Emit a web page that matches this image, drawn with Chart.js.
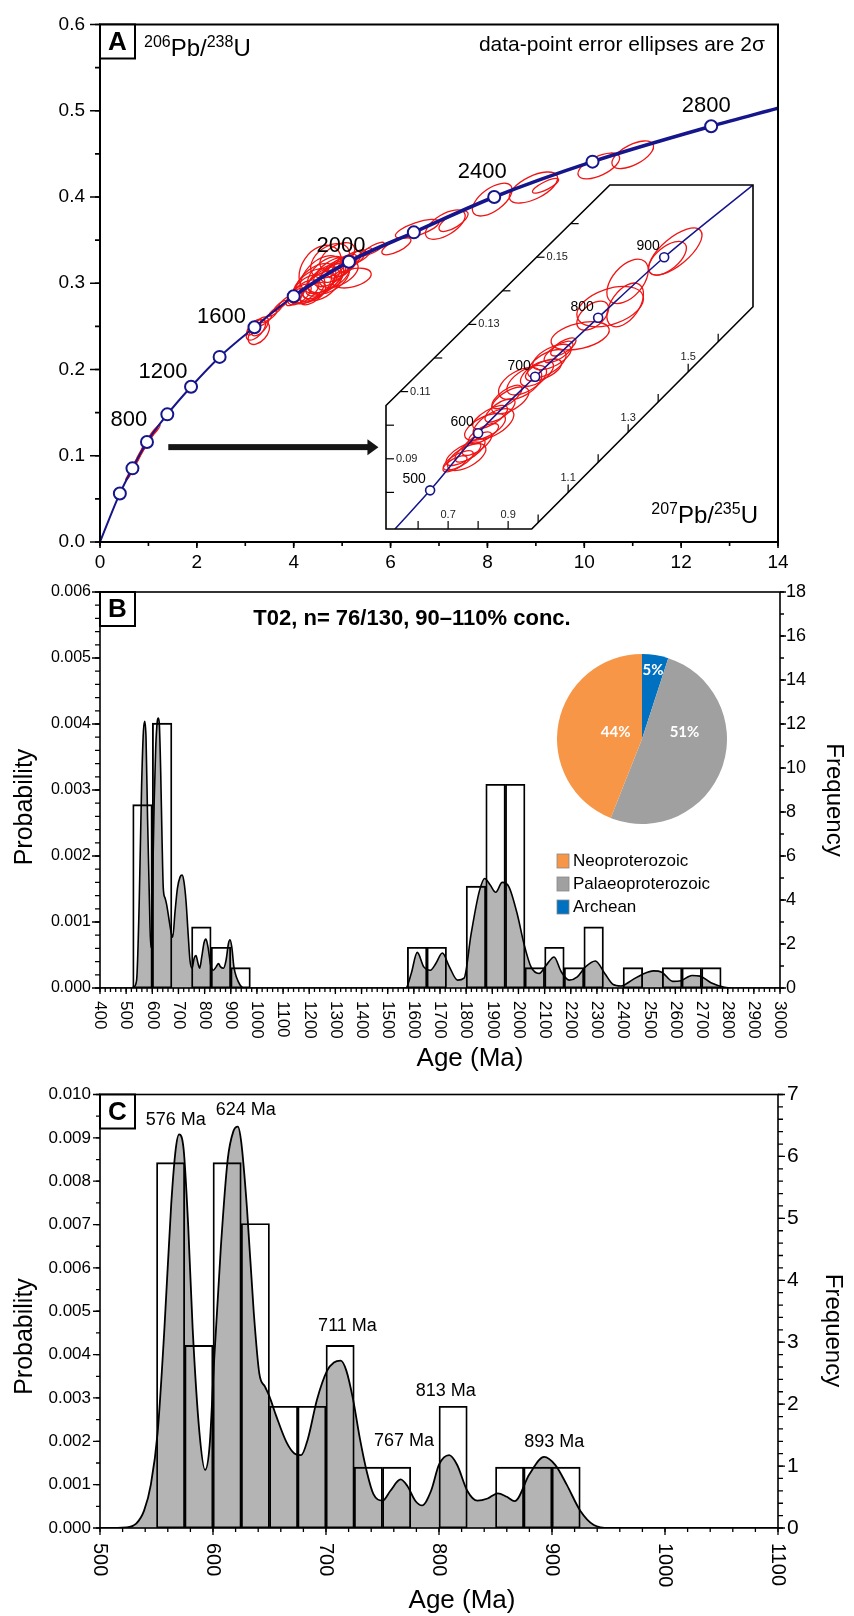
<!DOCTYPE html>
<html>
<head>
<meta charset="utf-8">
<title>U-Pb concordia and detrital zircon ages</title>
<script src="https://cdn.jsdelivr.net/npm/chart.js@4.4.1/dist/chart.umd.min.js"></script>
<style>
  body { margin: 0; background: #fff; }
  #fig { position: relative; width: 854px; height: 1616px; }
  #fig canvas { position: absolute; }
</style>
</head>
<body>
<div id="fig">
  <canvas id="gA" width="854" height="580" style="left:0;top:0"></canvas>
  <canvas id="gIn" width="371" height="348" style="left:384px;top:183px"></canvas>
  <canvas id="gB" width="854" height="500" style="left:0;top:575px"></canvas>
  <canvas id="gPie" width="170" height="170" style="left:557px;top:654px"></canvas>
  <canvas id="gC" width="854" height="541" style="left:0;top:1075px"></canvas>
</div>
<script>
// ---------- panel A : concordia (207Pb/235U vs 206Pb/238U) ----------
const concX = [0, 0.41, 0.67, 0.97, 1.39, 1.88, 2.47, 3.19, 4.00, 5.14, 6.48, 8.14, 10.17, 12.62, 14.0];
const concY = [0, 0.0563, 0.0854, 0.116, 0.148, 0.180, 0.2146, 0.249, 0.285, 0.325, 0.359, 0.400, 0.441, 0.482, 0.503];
const concLabelIdx = [3, 5, 7, 9, 11, 13];
const concLabels = ['800', '1200', '1600', '2000', '2400', '2800'];

// error ellipses: [x, y, 2s x, 2s y, rho]
const mainYoungEll = [
  [0.58, 0.0755, 0.05, 0.004, 0.9], [0.63, 0.0810, 0.05, 0.004, 0.9], [0.66, 0.0845, 0.06, 0.005, 0.9],
  [0.70, 0.0885, 0.05, 0.004, 0.9], [0.74, 0.0925, 0.06, 0.005, 0.9], [0.78, 0.0965, 0.05, 0.004, 0.9],
  [0.82, 0.1010, 0.06, 0.005, 0.9], [0.87, 0.1060, 0.06, 0.005, 0.9], [0.92, 0.1110, 0.07, 0.006, 0.9],
  [0.98, 0.1165, 0.07, 0.006, 0.9], [1.04, 0.1215, 0.07, 0.006, 0.9], [1.10, 0.1265, 0.08, 0.006, 0.9],
  [1.17, 0.1310, 0.07, 0.005, 0.9]
];
const mainOldEll = [
  [3.22, 0.246, 0.20, 0.012, 0.6], [3.28, 0.242, 0.22, 0.013, 0.5], [3.18, 0.249, 0.15, 0.009, 0.7],
  [3.30, 0.250, 0.18, 0.011, 0.6], [3.42, 0.257, 0.12, 0.006, 0.85], [3.52, 0.262, 0.13, 0.006, 0.85],
  [3.62, 0.268, 0.13, 0.006, 0.85], [3.72, 0.274, 0.12, 0.006, 0.85], [3.80, 0.278, 0.11, 0.006, 0.85],
  [4.02, 0.284, 0.18, 0.010, 0.7], [4.12, 0.287, 0.24, 0.012, 0.6], [4.22, 0.290, 0.30, 0.014, 0.6],
  [4.30, 0.293, 0.34, 0.017, 0.5], [4.38, 0.297, 0.40, 0.020, 0.5], [4.45, 0.301, 0.42, 0.022, 0.5],
  [4.52, 0.298, 0.33, 0.016, 0.6], [4.58, 0.306, 0.45, 0.026, 0.4], [4.62, 0.302, 0.37, 0.017, 0.6],
  [4.68, 0.310, 0.40, 0.021, 0.5], [4.72, 0.305, 0.43, 0.018, 0.5], [4.78, 0.313, 0.37, 0.017, 0.6],
  [4.82, 0.308, 0.34, 0.016, 0.6], [4.88, 0.315, 0.32, 0.014, 0.6], [4.93, 0.311, 0.40, 0.016, 0.5],
  [4.98, 0.319, 0.29, 0.013, 0.6], [4.55, 0.316, 0.44, 0.028, 0.3], [4.75, 0.326, 0.40, 0.020, 0.4],
  [4.90, 0.331, 0.36, 0.016, 0.5], [5.20, 0.306, 0.40, 0.0115, 0.4], [5.05, 0.321, 0.26, 0.013, 0.6],
  [5.15, 0.325, 0.24, 0.012, 0.7], [5.28, 0.329, 0.20, 0.010, 0.7], [4.40, 0.288, 0.26, 0.013, 0.6],
  [5.45, 0.333, 0.16, 0.008, 0.8], [5.65, 0.340, 0.22, 0.0075, 0.8], [6.12, 0.343, 0.30, 0.0100, 0.7],
  [6.55, 0.363, 0.45, 0.011, 0.7], [7.13, 0.368, 0.41, 0.017, 0.6], [7.30, 0.372, 0.30, 0.012, 0.7],
  [8.10, 0.397, 0.41, 0.019, 0.6], [8.95, 0.411, 0.50, 0.018, 0.6], [9.20, 0.413, 0.27, 0.0085, 0.8],
  [10.30, 0.436, 0.43, 0.015, 0.6], [11.00, 0.449, 0.43, 0.016, 0.6]
];

// inset (500-900 Ma)
const insetX = [0.523, 0.64, 0.80, 0.99, 1.20, 1.42, 1.72];
const insetY = [0.0691, 0.0806, 0.0976, 0.1144, 0.132, 0.150, 0.1718];
const insetLabels = ['500', '600', '700', '800', '900'];
const insetEll = [
  [0.734, 0.0895, 0.050, 0.0029, 0.7], [0.751, 0.0915, 0.058, 0.0035, 0.7], [0.773, 0.0925, 0.050, 0.0035, 0.7],
  [0.723, 0.0885, 0.040, 0.0024, 0.7], [0.796, 0.0945, 0.050, 0.0035, 0.7], [0.762, 0.0905, 0.064, 0.0040, 0.6],
  [0.823, 0.0995, 0.068, 0.0040, 0.6], [0.851, 0.1004, 0.068, 0.0045, 0.6], [0.840, 0.1024, 0.058, 0.0035, 0.7],
  [0.873, 0.1044, 0.050, 0.0035, 0.7], [0.818, 0.0975, 0.050, 0.0030, 0.7], [0.907, 0.1074, 0.062, 0.0040, 0.6],
  [0.896, 0.1084, 0.050, 0.0035, 0.7], [0.940, 0.1124, 0.072, 0.0048, 0.5], [0.962, 0.1134, 0.066, 0.0044, 0.6],
  [0.996, 0.1154, 0.055, 0.0038, 0.6], [1.029, 0.1183, 0.064, 0.0042, 0.6], [1.046, 0.1203, 0.064, 0.0038, 0.6],
  [1.068, 0.1218, 0.048, 0.0032, 0.7], [1.018, 0.1164, 0.060, 0.0033, 0.6], [1.084, 0.1233, 0.042, 0.0027, 0.7],
  [1.140, 0.1266, 0.097, 0.0042, 0.4], [1.182, 0.1326, 0.053, 0.0043, 0.5], [1.290, 0.1358, 0.061, 0.0065, 0.5],
  [1.298, 0.1428, 0.069, 0.0066, 0.5], [1.240, 0.1353, 0.111, 0.0060, 0.4], [1.431, 0.1497, 0.063, 0.0050, 0.6],
  [1.457, 0.1517, 0.089, 0.0070, 0.7]
];

// ---------- panel B : all concordant ages ----------
const pdpBAge = [400, 520, 530, 540, 550, 559, 566, 571, 576, 582, 589, 594, 598, 601, 607, 613, 619, 623, 627, 632,
  637, 642, 649, 655, 665, 673, 678, 687, 696, 706, 714, 721, 729, 737, 744, 752, 760, 767, 775, 781,
  789, 798, 805, 813, 823, 833, 844, 853, 861, 872, 882, 891, 897, 904, 912, 923, 935, 948, 1560, 1569,
  1590, 1613, 1638, 1663, 1684, 1709, 1736, 1767, 1792, 1819, 1850, 1871, 1892, 1913, 1938, 1964, 1996, 2021, 2048, 2079,
  2107, 2136, 2163, 2194, 2225, 2256, 2294, 2330, 2360, 2392, 2434, 2475, 2517, 2548, 2590, 2621, 2663, 2694, 2736, 2788,
  2819, 3000];
const pdpBProb = [0, 0, 0.00002, 0.00012, 0.00131, 0.00305, 0.00389, 0.00404, 0.00379, 0.00255, 0.00131, 0.00062, 0.00082, 0.00151, 0.0028, 0.00364, 0.00404, 0.00409, 0.00399, 0.00329,
  0.0023, 0.00151, 0.00136, 0.00126, 0.00101, 0.00082, 0.00077, 0.00116, 0.00151, 0.00168, 0.00171, 0.00161, 0.00131, 0.00082, 0.00042, 0.0003, 0.00045, 0.00049, 0.00037, 0.0003,
  0.00047, 0.00069, 0.00074, 0.00062, 0.00035, 0.00027, 0.00032, 0.00037, 0.00032, 0.0003, 0.00042, 0.00067, 0.00073, 0.00062, 0.00032, 0.00015, 0.00005, 0, 0, 0,
  0.00022, 0.00054, 0.00032, 0.00027, 0.00037, 0.00053, 0.00032, 0.00012, 0.00015, 0.00082, 0.00146, 0.00166, 0.00156, 0.00145, 0.0016, 0.00153, 0.00111, 0.00067, 0.00032, 0.00022,
  0.00035, 0.00047, 0.00025, 0.00012, 0.00017, 0.00032, 0.00041, 0.00022, 0.00006, 0.00003, 0.00012, 0.00021, 0.00026, 0.00024, 0.0001, 0.00011, 0.00019, 0.00018, 0.00008, 0.00001,
  0, 0];
// histogram, 75 Ma bins (bin centres)
const histBCentre = [562.5, 637.5, 712.5, 787.5, 862.5, 937.5, 1612.5, 1687.5, 1762.5, 1837.5, 1912.5, 1987.5, 2062.5,
  2137.5, 2212.5, 2287.5, 2362.5, 2437.5, 2512.5, 2587.5, 2662.5, 2737.5];
const histBCount = [9, 13, 0, 3, 2, 1, 2, 2, 0, 5, 10, 10, 1, 2, 1, 3, 0, 1, 0, 1, 1, 1];

const ageGroups = ['Neoproterozoic', 'Palaeoproterozoic', 'Archean'];
const groupShare = [44, 51, 5];
const groupColor = ['#F79646', '#A0A0A0', '#0070C0'];

// ---------- panel C : Neoproterozoic ages ----------
const pdpCAge = [500, 523, 532, 539, 545, 551, 557, 563, 567, 570, 574, 578, 582, 588, 593, 597, 601, 607, 613, 618,
  622, 625, 630, 636, 641, 646, 650, 656, 665, 672, 678, 684, 692, 701, 707, 713, 718, 724, 730, 736,
  742, 750, 757, 766, 772, 779, 785, 793, 800, 809, 816, 825, 834, 843, 852, 860, 867, 880, 893, 903,
  913, 925, 937, 951, 1100];
const pdpCProb = [0, 0.000015, 0.0001, 0.0004, 0.001, 0.0022, 0.0046, 0.00746, 0.00874, 0.00908, 0.00874, 0.007, 0.0046, 0.0022, 0.00134, 0.0019, 0.00386, 0.0065, 0.0085, 0.00915,
  0.00926, 0.0089, 0.0074, 0.005, 0.00356, 0.00326, 0.00303, 0.00258, 0.00198, 0.00172, 0.00168, 0.00206, 0.00296, 0.00363, 0.00382, 0.00386, 0.00363, 0.00296, 0.00206, 0.00131,
  0.00078, 0.00063, 0.00086, 0.00112, 0.00097, 0.00063, 0.00052, 0.00086, 0.00146, 0.00168, 0.00146, 0.00086, 0.00063, 0.00068, 0.0008, 0.00072, 0.00062, 0.00124, 0.00164, 0.00145,
  0.001, 0.0004, 0.00007, 0, 0];
const histCCentre = [562.5, 587.5, 612.5, 637.5, 662.5, 687.5, 712.5, 737.5, 762.5, 787.5, 812.5, 837.5, 862.5, 887.5, 912.5];
const histCCount = [6, 3, 6, 5, 2, 2, 3, 1, 1, 0, 2, 0, 1, 1, 1];
const peakLabels = ['576 Ma', '624 Ma', '711 Ma', '767 Ma', '813 Ma', '893 Ma'];

// ---------- helpers ----------
const FONT = "'Liberation Sans', Arial, Helvetica, sans-serif";
Chart.defaults.font.family = FONT;
Chart.defaults.color = '#000';
Chart.defaults.animation = false;
Chart.defaults.events = [];
Chart.defaults.plugins.legend.display = false;
Chart.defaults.plugins.tooltip.enabled = false;

const NAVY = '#15158c';
const RED = '#f01414';

function drawTicks(ctx, scale, step, len) {
  const n = Math.round((scale.max - scale.min) / step);
  ctx.beginPath();
  for (let i = 0; i <= n; i++) {
    const p = scale.getPixelForValue(scale.min + i * step);
    if (scale.position === 'bottom') { ctx.moveTo(p, scale.top); ctx.lineTo(p, scale.top + len); }
    else if (scale.position === 'left') { ctx.moveTo(scale.right, p); ctx.lineTo(scale.right - len, p); }
    else { ctx.moveTo(scale.left, p); ctx.lineTo(scale.left + len, p); }
  }
  ctx.stroke();
}

function frame(ctx, a, w) {
  ctx.save();
  ctx.strokeStyle = '#000';
  ctx.lineWidth = w;
  ctx.strokeRect(a.left, a.top, a.right - a.left, a.bottom - a.top);
  ctx.restore();
}

function letterBox(ctx, a, letter) {
  ctx.save();
  ctx.fillStyle = '#fff';
  ctx.fillRect(a.left, a.top, 35, 34);
  ctx.lineWidth = 2;
  ctx.strokeStyle = '#000';
  ctx.strokeRect(a.left, a.top, 35, 34);
  ctx.fillStyle = '#000';
  ctx.font = 'bold 26px ' + FONT;
  ctx.textAlign = 'center';
  ctx.textBaseline = 'middle';
  ctx.fillText(letter, a.left + 17.5, a.top + 18);
  ctx.restore();
}

function rotText(ctx, text, x, y, angle, font, align) {
  ctx.save();
  ctx.translate(x, y);
  ctx.rotate(angle);
  ctx.font = font;
  ctx.textAlign = align || 'center';
  ctx.textBaseline = 'middle';
  ctx.fillText(text, 0, 0);
  ctx.restore();
}

// parts beginning with ^ are superscripts
function richText(ctx, parts, x, y, big, small, align) {
  ctx.save();
  ctx.textAlign = 'left';
  ctx.textBaseline = 'alphabetic';
  const fb = big + 'px ' + FONT, fs = small + 'px ' + FONT;
  let w = 0;
  parts.forEach(p => { ctx.font = p[0] === '^' ? fs : fb; w += ctx.measureText(p.replace('^', '')).width; });
  let cx = align === 'right' ? x - w : x;
  parts.forEach(p => {
    const sup = p[0] === '^', t = p.replace('^', '');
    ctx.font = sup ? fs : fb;
    ctx.fillText(t, cx, sup ? y - big * 0.36 : y);
    cx += ctx.measureText(t).width;
  });
  ctx.restore();
}

function drawEllipse(ctx, xs, ys, e) {
  const cx = xs.getPixelForValue(e[0]), cy = ys.getPixelForValue(e[1]);
  const a = Math.abs(xs.getPixelForValue(e[0] + e[2]) - cx);
  const b = Math.abs(ys.getPixelForValue(e[1] + e[3]) - cy);
  const c = -e[4] * a * b;
  const m = (a * a + b * b) / 2, d = Math.sqrt(((a * a - b * b) / 2) ** 2 + c * c);
  const r1 = Math.sqrt(m + d), r2 = Math.sqrt(Math.max(m - d, 0.05));
  const th = 0.5 * Math.atan2(2 * c, a * a - b * b);
  ctx.beginPath();
  ctx.ellipse(cx, cy, r1, r2, th, 0, Math.PI * 2);
  ctx.stroke();
}

function rotatedXLabels(ctx, scale, step, gap, font) {
  const n = Math.round((scale.max - scale.min) / step);
  for (let i = 0; i <= n; i++) {
    const v = scale.min + i * step;
    rotText(ctx, String(Math.round(v)), scale.getPixelForValue(v), scale.top + gap, Math.PI / 2, font, 'left');
  }
}

// ---------- panel A chart ----------
const decoA = {
  id: 'decoA',
  beforeDatasetsDraw(chart) {
    const { ctx, chartArea: a, scales: { x, y } } = chart;
    ctx.save();
    ctx.beginPath();
    ctx.rect(a.left, a.top, a.right - a.left, a.bottom - a.top);
    ctx.clip();
    ctx.strokeStyle = RED;
    ctx.lineWidth = 1.3;
    mainYoungEll.concat(mainOldEll).forEach(e => drawEllipse(ctx, x, y, e));
    ctx.restore();
  },
  afterDraw(chart) {
    const { ctx, chartArea: a, scales: { x, y } } = chart;
    frame(ctx, a, 2);
    ctx.save();
    ctx.strokeStyle = '#000';
    ctx.lineWidth = 1.6;
    drawTicks(ctx, x, 2, 6); drawTicks(ctx, x, 1, 4);
    drawTicks(ctx, y, 0.1, 10); drawTicks(ctx, y, 0.05, 5);

    // arrow towards the inset
    const ax0 = x.getPixelForValue(1.41), ax1 = x.getPixelForValue(5.75), ay = y.getPixelForValue(0.110);
    ctx.fillStyle = '#151515';
    ctx.fillRect(ax0, ay - 3, ax1 - ax0 - 10, 6);
    ctx.beginPath();
    ctx.moveTo(ax1, ay); ctx.lineTo(ax1 - 11, ay - 8); ctx.lineTo(ax1 - 11, ay + 8); ctx.closePath();
    ctx.fill();

    // age labels on the concordia
    const offs = [[-18, -22], [-28, -15], [-33, -10], [-8, -16], [-12, -25], [-5, -20]];
    const pts = chart.getDatasetMeta(0).data;
    ctx.fillStyle = '#000';
    ctx.font = '22px ' + FONT;
    ctx.textAlign = 'center';
    ctx.textBaseline = 'middle';
    concLabelIdx.forEach((k, i) => ctx.fillText(concLabels[i], pts[k].x + offs[i][0], pts[k].y + offs[i][1]));

    ctx.font = '21px ' + FONT;
    ctx.textAlign = 'right';
    ctx.fillText('data-point error ellipses are 2\u03c3', a.right - 13, a.top + 21);
    ctx.restore();

    letterBox(ctx, a, 'A');
    richText(ctx, ['^206', 'Pb/', '^238', 'U'], a.left + 44, a.top + 31, 24, 16, 'left');
    richText(ctx, ['^207', 'Pb/', '^235', 'U'], a.right - 20, a.bottom - 19, 24, 16, 'right');
  }
};

new Chart(document.getElementById('gA'), {
  type: 'scatter',
  data: {
    datasets: [{
      type: 'line',
      data: concX.map((v, i) => ({ x: v, y: concY[i] })),
      borderColor: NAVY,
      borderWidth: 2,
      segment: { borderWidth: c => (c.p0.parsed.x >= 3.9 ? 3.6 : 2) },
      cubicInterpolationMode: 'monotone',
      fill: false,
      pointRadius: c => (c.dataIndex === 0 || c.dataIndex === concX.length - 1 ? 0 : 6),
      pointBackgroundColor: '#fff',
      pointBorderColor: NAVY,
      pointBorderWidth: 2
    }]
  },
  options: {
    responsive: false,
    layout: { padding: { top: 15, right: 76, bottom: 0, left: 0 } },
    scales: {
      x: {
        type: 'linear', min: 0, max: 14,
        grid: { display: false, drawTicks: false }, border: { display: false },
        ticks: { stepSize: 2, padding: 11, font: { size: 19, lineHeight: 1 } },
        afterFit: s => { s.height = 38; }
      },
      y: {
        type: 'linear', min: 0, max: 0.6,
        grid: { display: false, drawTicks: false }, border: { display: false },
        ticks: { stepSize: 0.1, padding: 15, font: { size: 19, lineHeight: 1 }, callback: v => v.toFixed(1) },
        afterFit: s => { s.width = 100; }
      }
    }
  },
  plugins: [decoA]
});

// ---------- inset chart ----------
const HEX = [[0, 1], [0.397, 1], [1, 0.354], [1, 0], [0.610, 0], [0, 0.641]];
function hexPts(a) {
  return HEX.map(([fx, fy]) => [a.left + fx * (a.right - a.left), a.top + fy * (a.bottom - a.top)]);
}
function hexPath(ctx, a) {
  ctx.beginPath();
  hexPts(a).forEach(([px, py], i) => (i ? ctx.lineTo(px, py) : ctx.moveTo(px, py)));
  ctx.closePath();
}

const decoInset = {
  id: 'decoInset',
  beforeDatasetsDraw(chart) {
    const { ctx, chartArea: a, scales: { x, y } } = chart;
    ctx.save();
    hexPath(ctx, a);
    ctx.fillStyle = '#fff';
    ctx.fill();
    ctx.clip();
    ctx.strokeStyle = RED;
    ctx.lineWidth = 1.3;
    insetEll.forEach(e => drawEllipse(ctx, x, y, e));
  },
  afterDatasetsDraw(chart) {
    const { ctx, chartArea: a, scales: { x, y } } = chart;
    ctx.restore();
    ctx.save();
    hexPath(ctx, a);
    ctx.strokeStyle = '#000';
    ctx.lineWidth = 1.6;
    ctx.stroke();

    const P = hexPts(a), B = P[1], C = P[2], E = P[4], F = P[5];
    ctx.lineWidth = 1.2;
    ctx.fillStyle = '#222';
    ctx.font = '11px ' + FONT;
    // 206/238 ticks on the left boundary
    ctx.textAlign = 'left';
    ctx.textBaseline = 'middle';
    for (let i = 0; i <= 8; i++) {
      const v = 0.08 + i * 0.01, py = y.getPixelForValue(v);
      if (py < a.top + 2 || py > a.bottom - 2) continue;
      const px = py >= F[1] ? a.left : F[0] + (F[1] - py) * (E[0] - F[0]) / (F[1] - E[1]);
      ctx.beginPath(); ctx.moveTo(px, py); ctx.lineTo(px + 8, py); ctx.stroke();
      if (i % 2 === 1) ctx.fillText(v.toFixed(2), px + 10, py);
    }
    // 207/235 ticks on the lower boundary
    ctx.textAlign = 'center';
    ctx.textBaseline = 'bottom';
    for (let i = 0; i <= 10; i++) {
      const v = 0.6 + i * 0.1, px = x.getPixelForValue(v);
      if (px < a.left + 2 || px > a.right - 2) continue;
      const py = px <= B[0] ? a.bottom : B[1] - (px - B[0]) * (B[1] - C[1]) / (C[0] - B[0]);
      ctx.beginPath(); ctx.moveTo(px, py); ctx.lineTo(px, py - 8); ctx.stroke();
      if (i % 2 === 1) ctx.fillText(v.toFixed(1), px, py - 9);
    }
    // age labels
    const pts = chart.getDatasetMeta(0).data;
    ctx.fillStyle = '#000';
    ctx.font = '14px ' + FONT;
    ctx.textBaseline = 'middle';
    insetLabels.forEach((t, i) => ctx.fillText(t, pts[i + 1].x - 16, pts[i + 1].y - 11));
    ctx.restore();
  }
};

new Chart(document.getElementById('gIn'), {
  type: 'scatter',
  data: {
    datasets: [{
      type: 'line',
      data: insetX.map((v, i) => ({ x: v, y: insetY[i] })),
      borderColor: NAVY,
      borderWidth: 1.5,
      cubicInterpolationMode: 'monotone',
      fill: false,
      pointRadius: c => (c.dataIndex === 0 || c.dataIndex === insetX.length - 1 ? 0 : 4.5),
      pointBackgroundColor: '#fff',
      pointBorderColor: NAVY,
      pointBorderWidth: 1.6
    }]
  },
  options: {
    responsive: false,
    layout: { padding: 2 },
    scales: {
      x: { type: 'linear', display: false, min: 0.493, max: 1.716 },
      y: { type: 'linear', display: false, min: 0.0691, max: 0.1715 }
    }
  },
  plugins: [decoInset]
});

// ---------- panel B chart ----------
const decoB = {
  id: 'decoB',
  afterDraw(chart) {
    const { ctx, chartArea: a, scales: { x, y, y2 } } = chart;
    frame(ctx, a, 1.6);
    ctx.save();
    ctx.strokeStyle = '#000';
    ctx.lineWidth = 1.3;
    drawTicks(ctx, x, 100, 6); drawTicks(ctx, x, 20, 4);
    drawTicks(ctx, y, 0.001, 8); drawTicks(ctx, y, 0.0002, 5);
    drawTicks(ctx, y2, 2, 6); drawTicks(ctx, y2, 1, 4);
    ctx.fillStyle = '#000';
    rotatedXLabels(ctx, x, 100, 13, '17px ' + FONT);
    rotText(ctx, 'Probability', 25, a.top + 215, -Math.PI / 2, '25px ' + FONT);
    rotText(ctx, 'Frequency', 834, a.top + 208, Math.PI / 2, '24px ' + FONT);
    rotText(ctx, 'Age (Ma)', 470, a.bottom + 71, 0, '26px ' + FONT);
    rotText(ctx, 'T02, n= 76/130, 90\u2013110% conc.', a.left + 312, a.top + 27, 0, 'bold 22px ' + FONT);

    // legend of the pie
    ctx.font = '17px ' + FONT;
    ctx.textAlign = 'left';
    ctx.textBaseline = 'middle';
    ageGroups.forEach((g, i) => {
      const ly = a.top + 269 + i * 23;
      ctx.fillStyle = groupColor[i];
      ctx.fillRect(a.left + 457, ly - 7, 12, 14);
      ctx.strokeStyle = '#888';
      ctx.lineWidth = 0.8;
      ctx.strokeRect(a.left + 457, ly - 7, 12, 14);
      ctx.fillStyle = '#000';
      ctx.fillText(g, a.left + 473, ly);
    });
    ctx.restore();
    letterBox(ctx, a, 'B');
  }
};

new Chart(document.getElementById('gB'), {
  type: 'bar',
  data: {
    datasets: [
      {
        type: 'bar',
        data: histBCentre.map((v, i) => ({ x: v, y: histBCount[i] })).filter(d => d.y > 0),
        yAxisID: 'yh',
        backgroundColor: 'rgba(0,0,0,0)',
        borderColor: '#000',
        borderWidth: 1.2,
        borderSkipped: false,
        barPercentage: 1,
        categoryPercentage: 1,
        order: 0
      },
      {
        type: 'line',
        data: pdpBAge.map((v, i) => ({ x: v, y: pdpBProb[i] })),
        yAxisID: 'y',
        borderColor: '#000',
        borderWidth: 1.6,
        backgroundColor: '#b4b4b4',
        fill: 'origin',
        pointRadius: 0,
        cubicInterpolationMode: 'monotone',
        order: 1
      }
    ]
  },
  options: {
    responsive: false,
    layout: { padding: { top: 10, right: 0, bottom: 0, left: 0 } },
    scales: {
      x: {
        type: 'linear', min: 400, max: 3000, offset: false,
        grid: { display: false, drawTicks: false, offset: false }, border: { display: false },
        ticks: { display: false, stepSize: 100 },
        afterFit: s => { s.height = 87; }
      },
      y: {
        type: 'linear', position: 'left', min: 0, max: 0.006,
        grid: { display: false, drawTicks: false }, border: { display: false },
        ticks: { stepSize: 0.001, padding: 9, font: { size: 16, lineHeight: 1 }, callback: v => v.toFixed(3) },
        afterFit: s => { s.width = 100; }
      },
      y2: {
        type: 'linear', position: 'right', min: 0, max: 18,
        grid: { display: false, drawTicks: false }, border: { display: false },
        ticks: { stepSize: 2, padding: 6, font: { size: 18, lineHeight: 1 } },
        afterFit: s => { s.width = 74; }
      },
      yh: { type: 'linear', display: false, min: 0, max: 19.44 }
    }
  },
  plugins: [decoB]
});

// ---------- pie (age groups) ----------
const pieLabels = {
  id: 'pieLabels',
  afterDatasetsDraw(chart) {
    const { ctx } = chart;
    const arc = chart.getDatasetMeta(0).data[0];
    const r = arc.outerRadius;
    const pos = [[0.13, -0.81], [0.50, -0.08], [-0.31, -0.08]];
    ctx.save();
    ctx.fillStyle = '#fff';
    ctx.font = 'bold 15px Lato, ' + FONT;
    ctx.textAlign = 'center';
    ctx.textBaseline = 'middle';
    chart.data.datasets[0].data.forEach((v, i) => ctx.fillText(v + '%', arc.x + pos[i][0] * r, arc.y + pos[i][1] * r));
    ctx.restore();
  }
};

new Chart(document.getElementById('gPie'), {
  type: 'pie',
  data: {
    labels: ageGroups.slice().reverse(),
    datasets: [{
      data: groupShare.slice().reverse(),
      backgroundColor: groupColor.slice().reverse(),
      borderWidth: 0,
      hoverOffset: 0
    }]
  },
  options: { responsive: false, layout: { padding: 0 } },
  plugins: [pieLabels]
});

// ---------- panel C chart ----------
const decoC = {
  id: 'decoC',
  afterDraw(chart) {
    const { ctx, chartArea: a, scales: { x, y, y2 } } = chart;
    frame(ctx, a, 1.6);
    ctx.save();
    ctx.strokeStyle = '#000';
    ctx.lineWidth = 1.3;
    drawTicks(ctx, x, 100, 7); drawTicks(ctx, x, 20, 4);
    drawTicks(ctx, y, 0.001, 7); drawTicks(ctx, y, 0.0005, 4);
    drawTicks(ctx, y2, 1, 7); drawTicks(ctx, y2, 0.2, 5);
    ctx.fillStyle = '#000';
    rotatedXLabels(ctx, x, 100, 15, '20px ' + FONT);
    rotText(ctx, 'Probability', 25, a.top + 242, -Math.PI / 2, '25px ' + FONT);
    rotText(ctx, 'Frequency', 833, a.top + 236, Math.PI / 2, '24px ' + FONT);
    rotText(ctx, 'Age (Ma)', 462, a.bottom + 73, 0, '26px ' + FONT);

    // peak labels (placed in age / probability units)
    const where = [[567, 0.00942], [629, 0.00964], [719, 0.00465], [769, 0.0020], [806, 0.00315], [902, 0.00198]];
    peakLabels.forEach((t, i) =>
      rotText(ctx, t, x.getPixelForValue(where[i][0]), y.getPixelForValue(where[i][1]), 0, '18px ' + FONT));
    ctx.restore();
    letterBox(ctx, a, 'C');
  }
};

new Chart(document.getElementById('gC'), {
  type: 'bar',
  data: {
    datasets: [
      {
        type: 'bar',
        data: histCCentre.map((v, i) => ({ x: v, y: histCCount[i] })).filter(d => d.y > 0),
        yAxisID: 'yh',
        backgroundColor: 'rgba(0,0,0,0)',
        borderColor: '#000',
        borderWidth: 1.2,
        borderSkipped: false,
        barPercentage: 1,
        categoryPercentage: 1,
        order: 0
      },
      {
        type: 'line',
        data: pdpCAge.map((v, i) => ({ x: v, y: pdpCProb[i] })),
        yAxisID: 'y',
        borderColor: '#000',
        borderWidth: 1.8,
        backgroundColor: '#b4b4b4',
        fill: 'origin',
        pointRadius: 0,
        cubicInterpolationMode: 'monotone',
        order: 1
      }
    ]
  },
  options: {
    responsive: false,
    layout: { padding: { top: 9, right: 0, bottom: 0, left: 0 } },
    scales: {
      x: {
        type: 'linear', min: 500, max: 1100, offset: false,
        grid: { display: false, drawTicks: false, offset: false }, border: { display: false },
        ticks: { display: false, stepSize: 100 },
        afterFit: s => { s.height = 88; }
      },
      y: {
        type: 'linear', position: 'left', min: 0, max: 0.010,
        grid: { display: false, drawTicks: false }, border: { display: false },
        ticks: { stepSize: 0.001, padding: 9, font: { size: 17, lineHeight: 1 }, callback: v => v.toFixed(3) },
        afterFit: s => { s.width = 100; }
      },
      y2: {
        type: 'linear', position: 'right', min: 0, max: 7,
        grid: { display: false, drawTicks: false }, border: { display: false },
        ticks: { stepSize: 1, padding: 9, font: { size: 21, lineHeight: 1 } },
        afterFit: s => { s.width = 76; }
      },
      yh: { type: 'linear', display: false, min: 0, max: 7.12 }
    }
  },
  plugins: [decoC]
});
</script>
</body>
</html>
